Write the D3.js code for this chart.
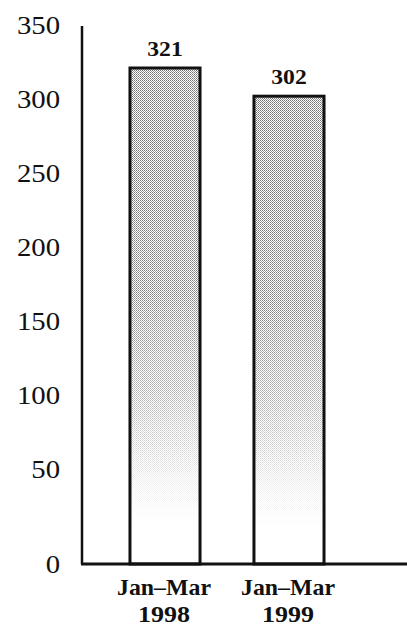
<!DOCTYPE html>
<html>
<head>
<meta charset="utf-8">
<script src="https://cdn.jsdelivr.net/npm/d3@7"></script>
<style>
  body { margin: 0; background: #fff; }
  text { font-family: "Liberation Serif", "Times New Roman", serif; fill: #111; }
</style>
</head>
<body>
<svg id="chart" width="407" height="627"></svg>
<script>
// data
var periods = ["Jan\u2013Mar", "Jan\u2013Mar"];
var years = ["1998", "1999"];
var values = [321, 302];
var yTicks = [0, 50, 100, 150, 200, 250, 300, 350];

var svg = d3.select('#chart');

var y = d3.scaleLinear().domain([0, 350]).range([544, 25]);
var baseline = y(0) + 20;   // axis line sits a bit under the zero value
var x = d3.scaleBand()
    .domain(d3.range(values.length))
    .range([82, 372])
    .paddingInner(0.435)
    .paddingOuter(0.387);

var defs = svg.append('defs');

// halftone dither
var pat = defs.append('pattern')
    .attr('id', 'dots')
    .attr('patternUnits', 'userSpaceOnUse')
    .attr('width', 2).attr('height', 2);
pat.append('rect').attr('width', 1).attr('height', 1).attr('fill', '#707070');
pat.append('rect').attr('x', 1).attr('y', 1).attr('width', 1).attr('height', 1).attr('fill', '#959595');

// fade to white towards the bottom
var grad = defs.append('linearGradient')
    .attr('id', 'fade')
    .attr('x1', 0).attr('y1', 0).attr('x2', 0).attr('y2', 1);
grad.append('stop').attr('offset', '0%').attr('stop-color', '#fff').attr('stop-opacity', 0);
grad.append('stop').attr('offset', '45%').attr('stop-color', '#fff').attr('stop-opacity', 0.12);
grad.append('stop').attr('offset', '68%').attr('stop-color', '#fff').attr('stop-opacity', 0.5);
grad.append('stop').attr('offset', '82%').attr('stop-color', '#fff').attr('stop-opacity', 0.85);
grad.append('stop').attr('offset', '92%').attr('stop-color', '#fff').attr('stop-opacity', 1);

var bars = svg.selectAll('g.bar')
    .data(values)
    .join('g')
    .attr('class', 'bar');

bars.append('rect')
    .attr('x', (d, i) => x(i))
    .attr('y', d => y(d))
    .attr('width', x.bandwidth())
    .attr('height', d => baseline - y(d))
    .attr('fill', 'url(#dots)');

bars.append('rect')
    .attr('x', (d, i) => x(i))
    .attr('y', d => y(d))
    .attr('width', x.bandwidth())
    .attr('height', d => baseline - y(d))
    .attr('fill', 'url(#fade)')
    .attr('stroke', '#111')
    .attr('stroke-width', 3);

// value labels
bars.append('text')
    .attr('transform', (d, i) => 'translate(' + (x(i) + x.bandwidth() / 2) + ',' + (y(d) - 12) + ') scale(1.18,1)')
    .attr('text-anchor', 'middle')
    .attr('font-weight', 'bold')
    .attr('font-size', 20)
    .text(d => d);

// axes
svg.append('line')
    .attr('x1', 82).attr('x2', 82)
    .attr('y1', 26).attr('y2', baseline)
    .attr('stroke', '#111').attr('stroke-width', 2.5);
svg.append('line')
    .attr('x1', 81).attr('x2', 407)
    .attr('y1', baseline).attr('y2', baseline)
    .attr('stroke', '#111').attr('stroke-width', 3);

svg.selectAll('text.tick')
    .data(yTicks)
    .join('text')
    .attr('class', 'tick')
    .attr('transform', d => 'translate(60,' + (d === 0 ? baseline : y(d)) + ') scale(1.15,1)')
    .attr('dy', '0.34em')
    .attr('text-anchor', 'end')
    .attr('font-size', 25)
    .text(d => d);

// category labels
var cat = svg.selectAll('g.cat')
    .data(periods)
    .join('g')
    .attr('class', 'cat')
    .attr('transform', (d, i) => 'translate(' + (x(i) + x.bandwidth() / 2 - 1) + ',0)');
cat.append('text')
    .attr('y', 595)
    .attr('text-anchor', 'middle')
    .attr('font-weight', 'bold')
    .attr('font-size', 23)
    .attr('textLength', 94)
    .attr('lengthAdjust', 'spacingAndGlyphs')
    .text(d => d);
cat.append('text')
    .attr('y', 622)
    .attr('text-anchor', 'middle')
    .attr('font-weight', 'bold')
    .attr('font-size', 23)
    .attr('textLength', 52)
    .attr('lengthAdjust', 'spacingAndGlyphs')
    .text((d, i) => years[i]);
</script>
</body>
</html>
